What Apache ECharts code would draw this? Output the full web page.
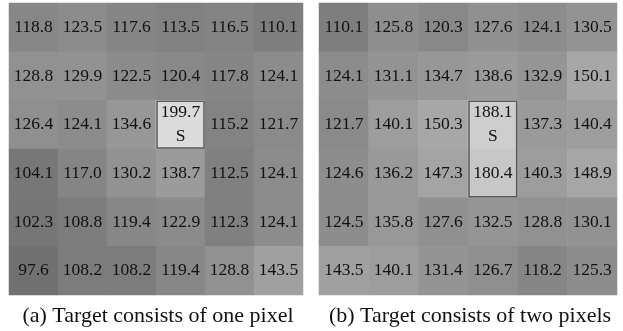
<!DOCTYPE html>
<html><head><meta charset="utf-8">
<script src="https://cdn.jsdelivr.net/npm/echarts@6/dist/echarts.min.js"></script>
<style>html,body{margin:0;padding:0;background:#fff}#c{width:623px;height:331px}</style>
</head><body><div id="c"></div>
<script>
const cols = ['0','1','2','3','4','5'];
const rows = ['0','1','2','3','4','5'];
const gridA = [
  [118.8,123.5,117.6,113.5,116.5,110.1],
  [128.8,129.9,122.5,120.4,117.8,124.1],
  [126.4,124.1,134.6,199.7,115.2,121.7],
  [104.1,117.0,130.2,138.7,112.5,124.1],
  [102.3,108.8,119.4,122.9,112.3,124.1],
  [97.6,108.2,108.2,119.4,128.8,143.5]
];
const gridB = [
  [110.1,125.8,120.3,127.6,124.1,130.5],
  [124.1,131.1,134.7,138.6,132.9,150.1],
  [121.7,140.1,150.3,188.1,137.3,140.4],
  [124.6,136.2,147.3,180.4,140.3,148.9],
  [124.5,135.8,127.6,132.5,128.8,130.1],
  [143.5,140.1,131.4,126.7,118.2,125.3]
];
const targetA = [[3,2]];          // [col,row] cells labelled S / boxed
const targetB = [[3,2],[3,3]];
const captionA = '(a) Target consists of one pixel';
const captionB = '(b) Target consists of two pixels';

function toData(g){
  const d=[];
  g.forEach((r,ri)=>r.forEach((v,ci)=>d.push([ci,ri,v])));
  return d;
}
const font = 'Liberation Serif';
function heat(g, idx, target){
  const sCell = target[0];
  return {
    type:'heatmap', xAxisIndex:idx, yAxisIndex:idx, data:toData(g),
    itemStyle:{borderWidth:0},
    label:{show:true, color:'#111', fontFamily:font, fontSize:17.5, lineHeight:24,
      formatter:p=>{
        const s=p.value[2].toFixed(1);
        return (p.value[0]===sCell[0]&&p.value[1]===sCell[1])? s+'\nS' : s;
      }},
    emphasis:{disabled:true}
  };
}
function box(idx, target){
  const xs=target.map(t=>t[0]), ys=target.map(t=>t[1]);
  return {
    type:'custom', xAxisIndex:idx, yAxisIndex:idx, silent:true, z:5,
    data:[[Math.min(...xs),Math.min(...ys),Math.max(...xs),Math.max(...ys)]],
    renderItem:(params,api)=>{
      const p0=api.coord([api.value(0),api.value(1)]);
      const p1=api.coord([api.value(2),api.value(3)]);
      const w=api.size([1,1]);
      const x=p0[0]-w[0]/2+1, y=p0[1]-w[1]/2+1;
      return {type:'rect', shape:{x:x,y:y,width:p1[0]-p0[0]+w[0]-2,height:p1[1]-p0[1]+w[1]-2},
        style:{fill:null, stroke:'#5a5a5a', lineWidth:1.5}};
    }
  };
}
const chart = echarts.init(document.getElementById('c'));
const axX = i=>({type:'category',data:cols,gridIndex:i,show:false});
const axY = i=>({type:'category',data:rows,gridIndex:i,show:false,inverse:true});
chart.setOption({
  animation:false,
  backgroundColor:'#fff',
  grid:[{left:9,top:3,width:294,height:292},{left:319,top:3,width:298,height:292}],
  xAxis:[axX(0),axX(1)], yAxis:[axY(0),axY(1)],
  visualMap:{show:false, min:95, max:205, seriesIndex:[0,1], inRange:{color:['#6e6e6e','#e0e0e0']}},
  title:[
    {text:captionA, left:153, top:300, textAlign:'center', textStyle:{fontFamily:font,fontSize:22,fontWeight:'normal',color:'#111'}},
    {text:captionB, left:465, top:300, textAlign:'center', textStyle:{fontFamily:font,fontSize:22,fontWeight:'normal',color:'#111'}}
  ],
  series:[heat(gridA,0,targetA), heat(gridB,1,targetB), box(0,targetA), box(1,targetB)]
});
</script></body></html>
